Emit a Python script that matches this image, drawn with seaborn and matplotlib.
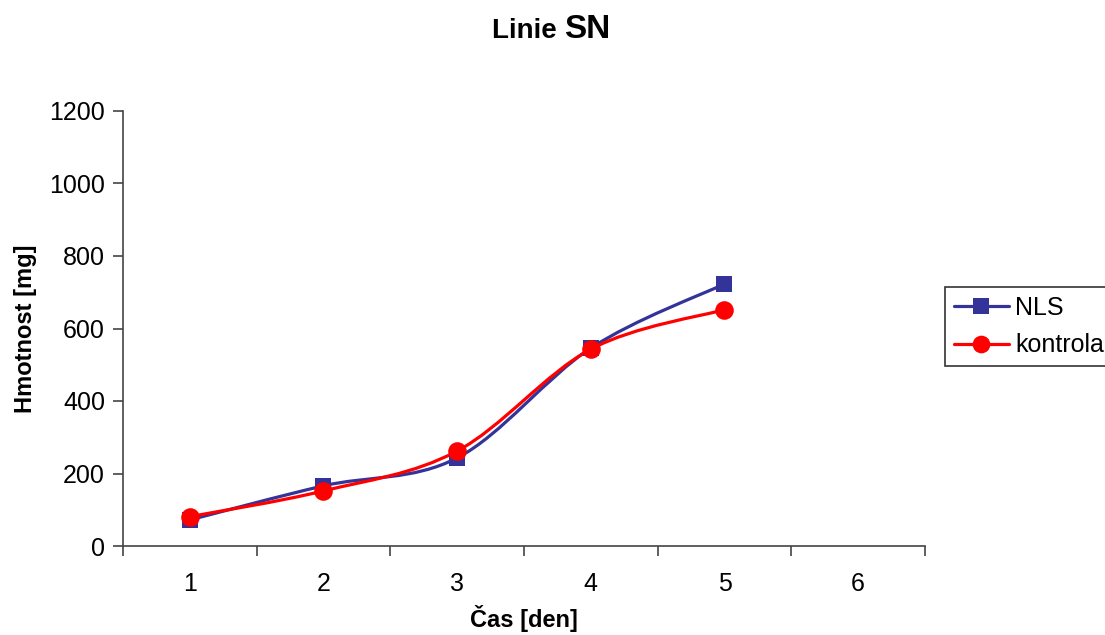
import numpy as np
import pandas as pd
import matplotlib
matplotlib.use("Agg")
import matplotlib.pyplot as plt
from matplotlib.path import Path
from matplotlib.patches import PathPatch
from matplotlib.lines import Line2D
import seaborn as sns

days = [1, 2, 3, 4, 5]
nls = [72, 166, 243, 546, 723]
kontrola = [81, 152, 262, 543, 652]
x_labels = ["1", "2", "3", "4", "5", "6"]
series_names = ["NLS", "kontrola"]
colors = {"NLS": "#333399", "kontrola": "#FF0000"}
markers = {"NLS": "s", "kontrola": "o"}
msizes = {"NLS": 11.8, "kontrola": 13.4}

sns.set_theme(style="white")
plt.rcParams["font.family"] = ["Liberation Sans", "DejaVu Sans"]
plt.rcParams["text.color"] = "black"
plt.rcParams["axes.labelcolor"] = "black"
plt.rcParams["xtick.color"] = "black"
plt.rcParams["ytick.color"] = "black"

df = pd.DataFrame({
    "den": days * 2,
    "hmotnost": nls + kontrola,
    "serie": ["NLS"] * len(days) + ["kontrola"] * len(days),
})

fig = plt.figure(figsize=(11.05, 6.35), dpi=100)
ax = fig.add_axes([123 / 1105, 1 - 546 / 635, (925 - 123) / 1105, (546 - 111) / 635])


def smooth_path(xs, ys):
    pts = np.column_stack([xs, ys]).astype(float)
    n = len(pts)
    verts = [pts[0]]
    codes = [Path.MOVETO]
    for i in range(n - 1):
        p0 = pts[i - 1] if i > 0 else pts[i]
        p1 = pts[i]
        p2 = pts[i + 1]
        p3 = pts[i + 2] if i + 2 < n else pts[i + 1]
        c1 = p1 + (p2 - p0) / 6.0
        c2 = p2 - (p3 - p1) / 6.0
        verts += [c1, c2, p2]
        codes += [Path.CURVE4] * 3
    return Path(verts, codes)


for name in series_names:
    sub = df[df["serie"] == name]
    patch = PathPatch(smooth_path(sub["den"].values, sub["hmotnost"].values),
                      facecolor="none", edgecolor=colors[name], lw=2.3,
                      capstyle="round", joinstyle="round", zorder=3)
    ax.add_patch(patch)

for name in series_names:
    sub = df[df["serie"] == name]
    sns.scatterplot(data=sub, x="den", y="hmotnost", ax=ax, marker=markers[name],
                    color=colors[name], s=msizes[name] ** 2, linewidth=0,
                    zorder=4, legend=False)

ax.set_xlim(0.5, 6.5)
ax.set_ylim(0, 1200)
ax.set_yticks(np.arange(0, 1201, 200))
ax.set_xticks(np.arange(0.5, 6.6, 1.0))
ax.set_xticklabels([])
ax.set_xticks(np.arange(1, 7), minor=True)
ax.set_xticklabels(x_labels, minor=True)

for side in ["top", "right"]:
    ax.spines[side].set_visible(False)
for side in ["left", "bottom"]:
    ax.spines[side].set_color("#444444")
    ax.spines[side].set_linewidth(1.2)

ax.tick_params(axis="y", which="major", direction="out", length=7, width=1.2,
               color="#444444", labelsize=18, pad=6, left=True)
ax.tick_params(axis="x", which="major", direction="out", length=7, width=1.2,
               color="#444444", bottom=True)
ax.tick_params(axis="x", which="minor", length=0, labelsize=18, pad=19)

ax.set_xlabel("Čas [den]", fontsize=17, fontweight="bold", labelpad=6)
ax.set_ylabel("Hmotnost [mg]", fontsize=17, fontweight="bold", labelpad=9)
ax.grid(False)

split_x = 564 / 1105
fig.text(split_x, 1 - 31 / 635, "Linie ", fontsize=20, fontweight="bold",
         ha="right", va="center")
fig.text(split_x, 1 - 30 / 635, "SN", fontsize=24, fontweight="bold",
         ha="left", va="center")

handles = [Line2D([0], [0], color=colors[n], lw=2.3, marker=markers[n],
                  markersize=msizes[n] * 0.95, markeredgewidth=0)
           for n in series_names]
leg = fig.legend(handles, series_names, loc="upper left",
                 bbox_to_anchor=(945 / 1105, 1 - 287 / 635),
                 fontsize=18, frameon=True, fancybox=False, edgecolor="black",
                 handlelength=2.2, handletextpad=0.25, borderpad=0.35,
                 labelspacing=0.55, borderaxespad=0)
leg.get_frame().set_linewidth(1.2)

fig.savefig("out.png", dpi=100)
